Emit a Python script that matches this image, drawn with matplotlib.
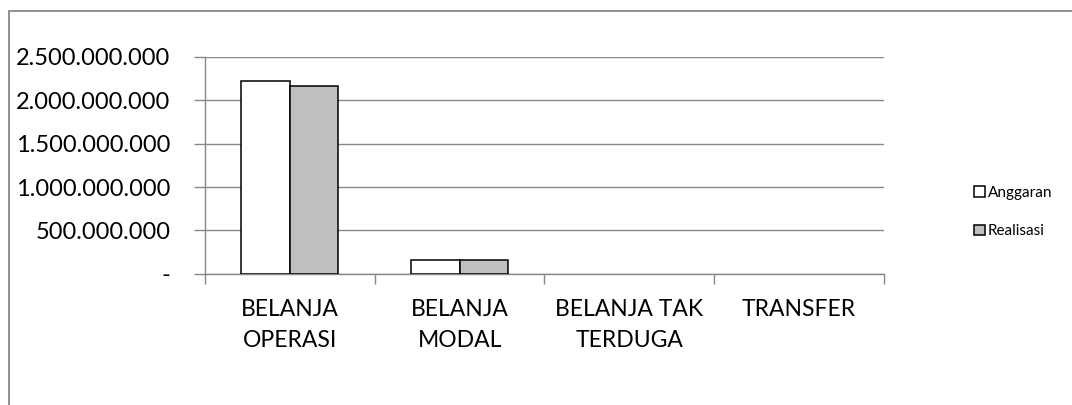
import matplotlib.pyplot as plt
import numpy as np
from matplotlib.patches import Rectangle
from matplotlib.ticker import FuncFormatter

# Data
categories = ["BELANJA\nOPERASI", "BELANJA\nMODAL", "BELANJA TAK\nTERDUGA", "TRANSFER"]
anggaran = [2219000000, 155000000, 0, 0]
realisasi = [2161000000, 153000000, 0, 0]

plt.rcParams['font.family'] = ['Lato', 'DejaVu Sans']

fig = plt.figure(figsize=(10.72, 4.05), dpi=100)
ax = fig.add_axes([0.1912, 0.3242, 0.6334, 0.5351])

# outer chart frame (right/bottom cut off in the original)
fig.patches.append(Rectangle((8.5 / 1072, -0.05), 1.2, (405 - 11) / 405 + 0.05,
                             transform=fig.transFigure, fill=False,
                             edgecolor='#878787', linewidth=1.3))

x = np.arange(len(categories))
w = 1 / 3.5
b1 = ax.bar(x - w / 2, anggaran, w, color='white', edgecolor='black', linewidth=1.1,
            label='Anggaran', zorder=3)
b2 = ax.bar(x + w / 2, realisasi, w, color='#bfbfbf', edgecolor='black', linewidth=1.1,
            label='Realisasi', zorder=3)
# zero-height bars are not visible in the original
for bars in (b1, b2):
    for p in bars:
        if p.get_height() == 0:
            p.set_visible(False)

ax.set_xlim(-0.5, len(categories) - 0.5)
ax.set_ylim(0, 2500000000)
ax.set_yticks(np.arange(0, 2500000001, 500000000))


def fmt(v, pos):
    if v == 0:
        return '-'
    return f"{int(v):,}".replace(",", ".")


ax.yaxis.set_major_formatter(FuncFormatter(fmt))
ax.grid(axis='y', color='#878787', linewidth=1, zorder=0)

for s in ['top', 'right']:
    ax.spines[s].set_visible(False)
for s in ['left', 'bottom']:
    ax.spines[s].set_color('#878787')
    ax.spines[s].set_linewidth(1)

# category labels centered, boundary tick marks
ax.set_xticks(np.arange(-0.5, len(categories)), minor=False)
ax.set_xticklabels([])
ax.set_xticks(x, minor=True)
ax.set_xticklabels(categories, minor=True, fontsize=16.5, linespacing=1.6,
                   va='top')
ax.tick_params(axis='x', which='major', length=7, color='#878787', width=1)
ax.tick_params(axis='x', which='minor', length=0, pad=18)
ax.tick_params(axis='y', length=8, color='#878787', width=1, labelsize=17, pad=17)

leg = fig.legend(handles=[b1, b2], loc='center left',
                 bbox_to_anchor=(974 / 1072, 1 - 212 / 405), frameon=False,
                 fontsize=11, handlelength=0.7, handleheight=0.7,
                 handletextpad=0.2, labelspacing=1.6, borderpad=0,
                 borderaxespad=0)

fig.savefig('out.png', dpi=100)
